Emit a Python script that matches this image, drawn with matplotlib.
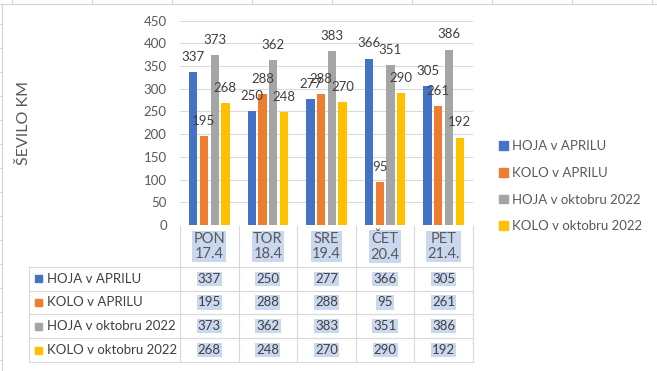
import matplotlib
matplotlib.use("Agg")
import matplotlib.pyplot as plt
from matplotlib.lines import Line2D
from matplotlib.patches import Patch, Rectangle
from matplotlib.transforms import blended_transform_factory
import numpy as np

days = ["PON\n17.4", "TOR\n18.4", "SRE\n19.4", "ČET\n20.4", "PET\n21.4."]
series_names = ["HOJA v APRILU", "KOLO v APRILU", "HOJA v oktobru 2022", "KOLO v oktobru 2022"]
hoja_april = [337, 250, 277, 366, 305]
kolo_april = [195, 288, 288, 95, 261]
hoja_okt = [373, 362, 383, 351, 386]
kolo_okt = [268, 248, 270, 290, 192]
colors = ["#4472C4", "#ED7D31", "#A5A5A5", "#FFC000"]

plt.rcParams['font.family'] = ['Lato', 'DejaVu Sans']

W, H = 657, 371
fig = plt.figure(figsize=(W / 100, H / 100), dpi=100)

def fx(px):
    return px / W

def fy(py):
    return 1 - py / H

# plot area
ax = fig.add_axes([fx(180), fy(225), fx(473) - fx(180), fy(20.5) - fy(225)])
ax.set_xlim(-0.5, len(days) - 0.5)
ax.set_ylim(0, 450)
ax.set_yticks(np.arange(0, 451, 50))
ax.set_xticks([])
ax.tick_params(axis='y', length=0, pad=9.5, labelsize=9.5, labelcolor='#595959')
for s in ax.spines.values():
    s.set_visible(False)
ax.grid(axis='y', color='#d9d9d9', lw=0.75)
ax.set_axisbelow(True)
ax.set_ylabel("ŠEVILO KM", fontsize=11.5, color='#595959')
ax.yaxis.set_label_coords((31 - 180) / (473 - 180), (225 - 123) / (225 - 20.5))

x = np.arange(len(days))
all_series = [hoja_april, kolo_april, hoja_okt, kolo_okt]
bw = 0.142
step = 0.183
for i, vals in enumerate(all_series):
    pos = x + (i - 1.5) * step
    bars = ax.bar(pos, vals, width=bw, color=colors[i], zorder=2)
    for b, v in zip(bars, vals):
        ax.annotate(str(v), (b.get_x() + b.get_width() / 2, v), xytext=(0, 11),
                    textcoords='offset points', ha='center', va='center',
                    fontsize=9.5, color='#404040', annotation_clip=False)

# data table below the chart
tr = blended_transform_factory(ax.transData, fig.transFigure)
grid_c = '#d9d9d9'
row_y = [266.7, 290.7, 314.3, 338.3, 362.3]
hl = dict(boxstyle='square,pad=0.08', fc='#c9d7ef', ec='none')

for k in range(len(days) + 1):
    xb = k - 0.5
    fig.add_artist(Line2D([xb, xb], [fy(226), fy(row_y[-1])], transform=tr, color=grid_c, lw=0.8))
fig.add_artist(Line2D([fx(29.3), fx(29.3)], [fy(row_y[0]), fy(row_y[-1])],
                      transform=fig.transFigure, color=grid_c, lw=0.8))
for ry in row_y:
    fig.add_artist(Line2D([fx(29.3), fx(473.3)], [fy(ry), fy(ry)],
                          transform=fig.transFigure, color=grid_c, lw=0.8))

for j, d in enumerate(days):
    fig.text(x[j], fy(246.5), d, transform=tr, ha='center', va='center', fontsize=10.5,
             color='#595959', linespacing=1.15, bbox=hl)

for i, vals in enumerate(all_series):
    cy = (row_y[i] + row_y[i + 1]) / 2
    fig.add_artist(Rectangle((fx(35), fy(cy + 3.5)), fx(7), 7 / H,
                             transform=fig.transFigure, color=colors[i]))
    fig.text(fx(47), fy(cy), series_names[i], ha='left', va='center', fontsize=9.5, color='#404040')
    for j, v in enumerate(vals):
        fig.text(x[j], fy(cy), str(v), transform=tr, ha='center', va='center',
                 fontsize=9.5, color='#404040', bbox=hl)

# legend
handles = [Patch(color=c) for c in colors]
fig.legend(handles, series_names, loc='center left', bbox_to_anchor=(fx(499), fy(186.2)),
           frameon=False, fontsize=9.5, labelcolor='#595959', handlelength=0.66,
           handleheight=0.66, handletextpad=0.3, labelspacing=1.12,
           borderpad=0, borderaxespad=0)

# spreadsheet cell borders behind the chart
sheet_c = '#d4d4d4'
fig.add_artist(Line2D([0, 1], [fy(4), fy(4)], transform=fig.transFigure, color=sheet_c, lw=0.8))
fig.add_artist(Line2D([fx(2), fx(2)], [fy(4), 0], transform=fig.transFigure, color=sheet_c, lw=0.8))
for px in np.arange(11.7, W, 80):
    fig.add_artist(Line2D([fx(px), fx(px)], [1, fy(4)], transform=fig.transFigure, color=sheet_c, lw=0.8))
for py in np.arange(24, H, 24):
    fig.add_artist(Line2D([0, fx(2)], [fy(py), fy(py)], transform=fig.transFigure, color=sheet_c, lw=0.8))

fig.savefig("out.png", dpi=100)
